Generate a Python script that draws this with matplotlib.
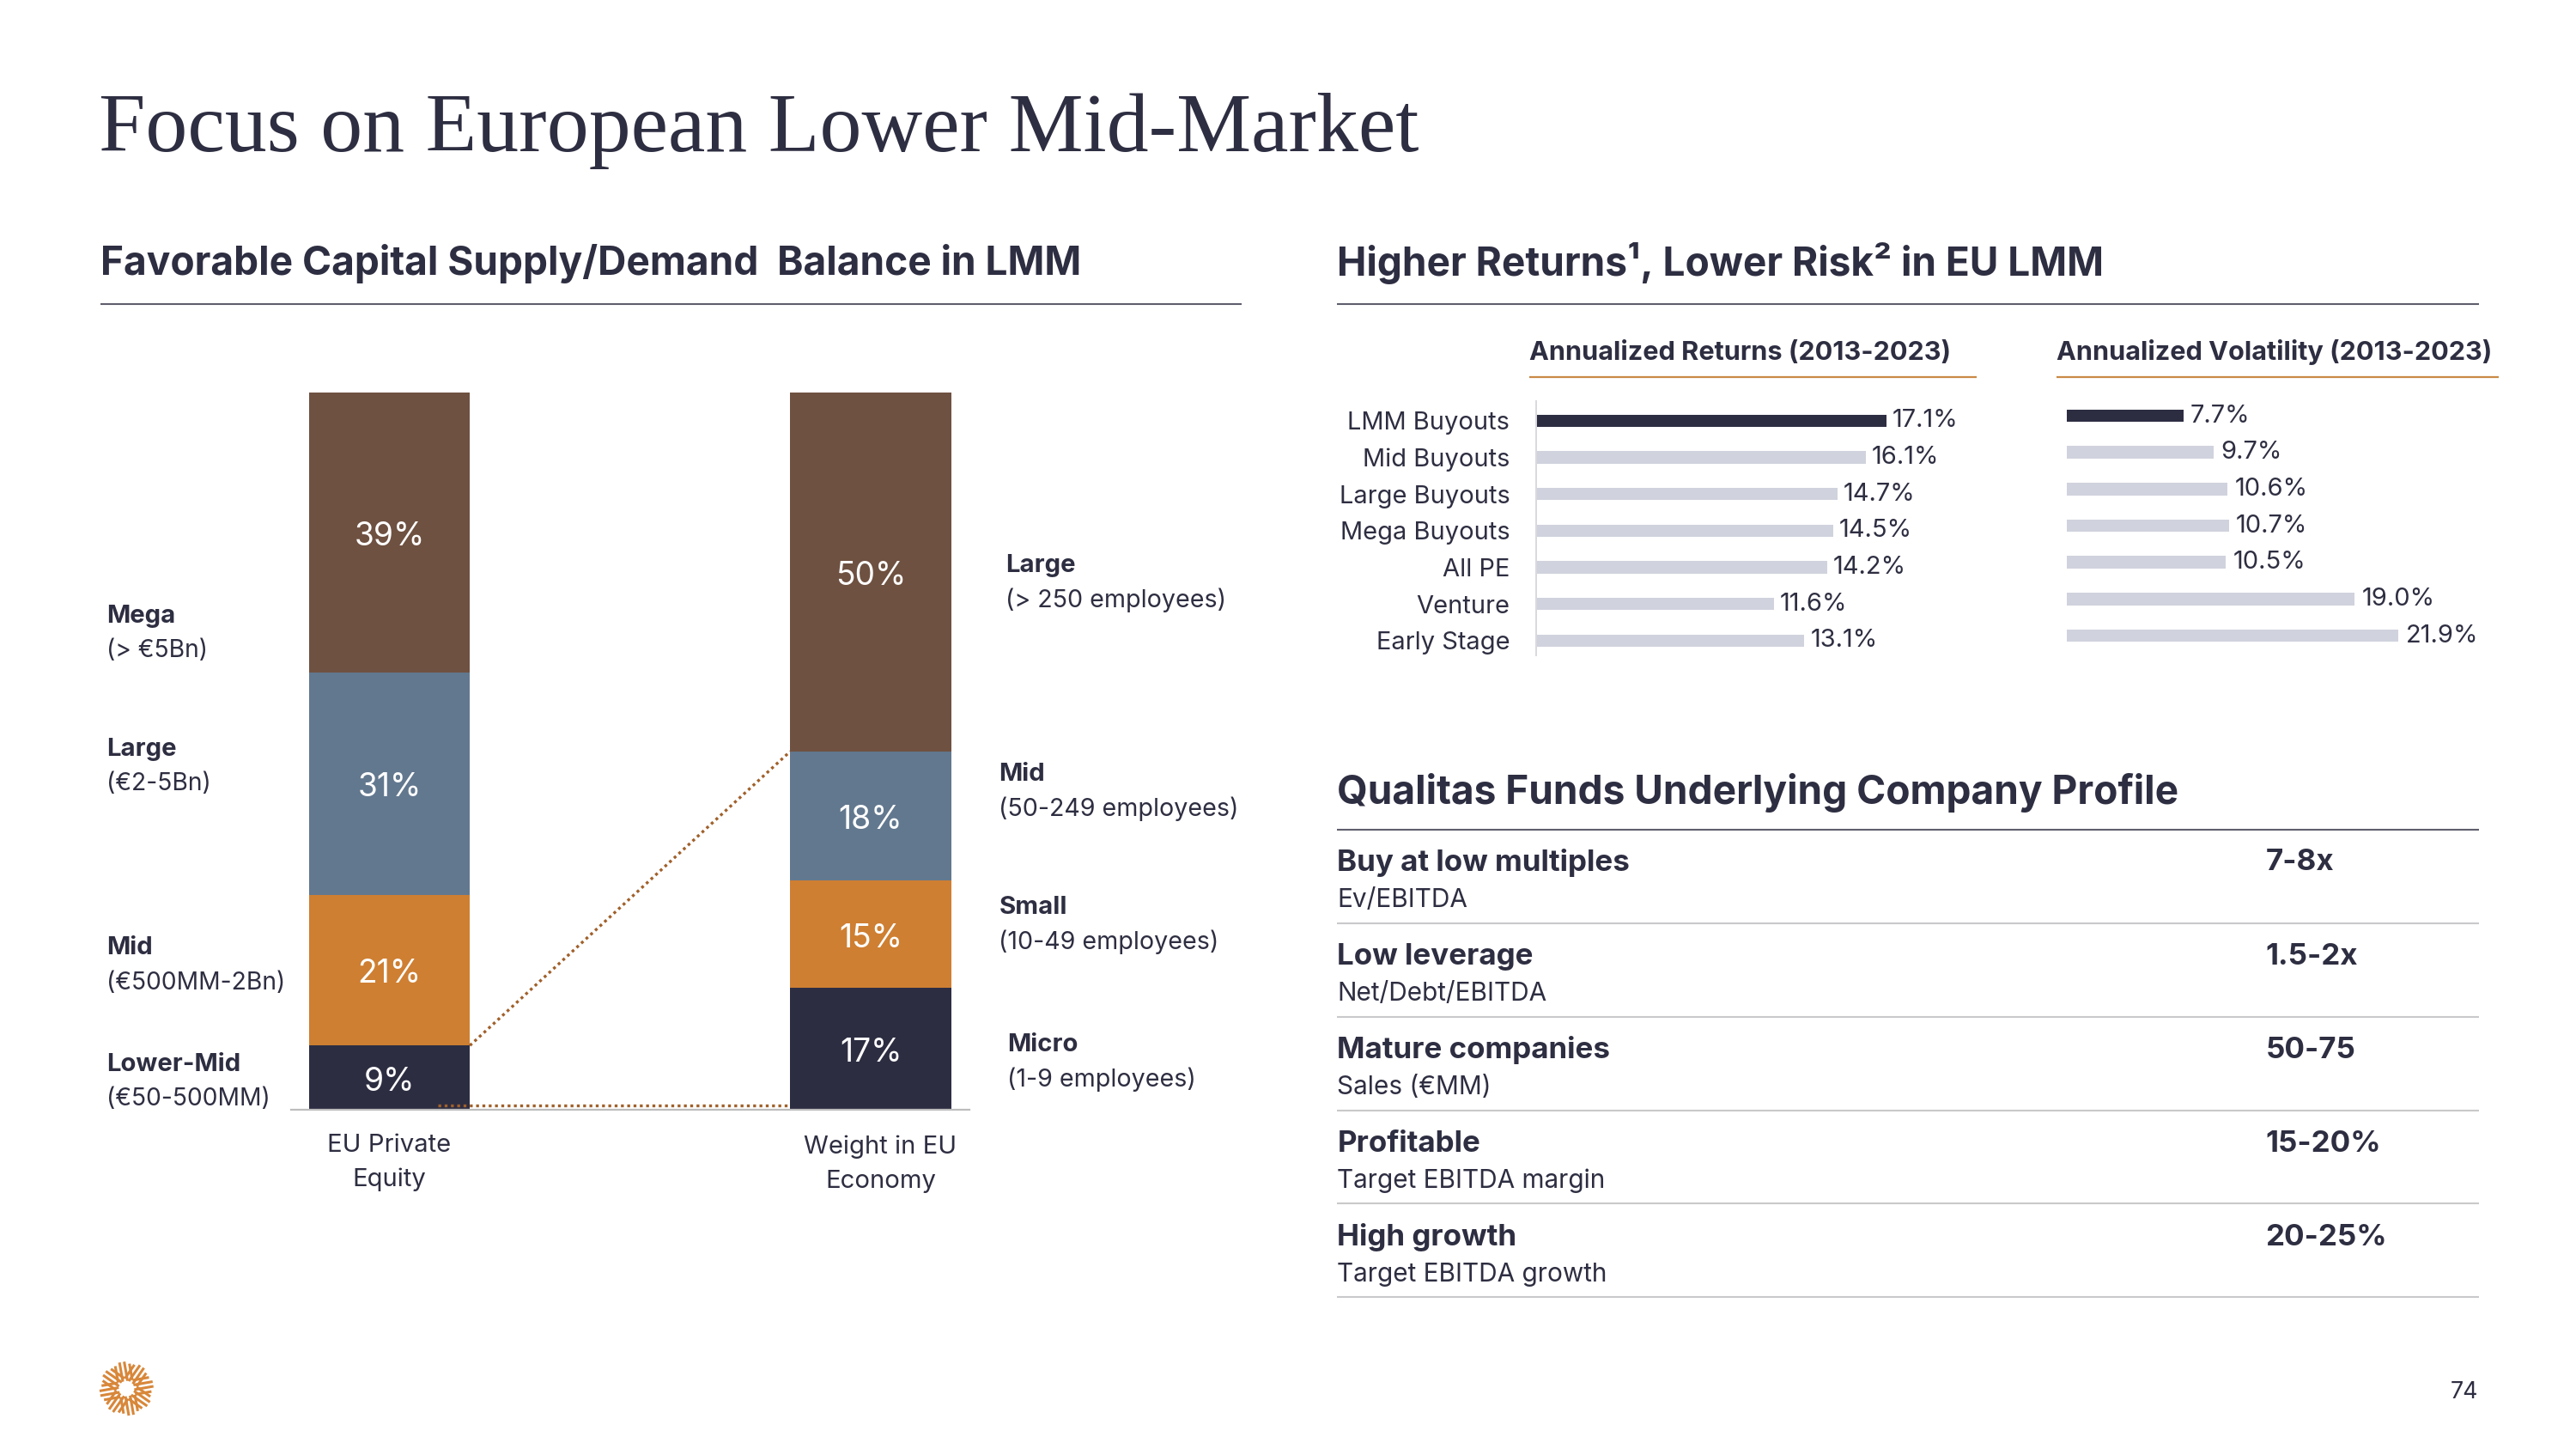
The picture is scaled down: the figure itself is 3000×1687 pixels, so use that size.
import matplotlib
matplotlib.use("Agg")
import matplotlib.pyplot as plt
from matplotlib.lines import Line2D
import numpy as np

# ---------------- data ----------------
pe_segments = ["Lower-Mid", "Mid", "Large", "Mega"]
pe_ranges = ["(€50-500MM)", "(€500MM-2Bn)", "(€2-5Bn)", "(> €5Bn)"]
pe_share = [9, 21, 31, 39]
econ_segments = ["Micro", "Small", "Mid", "Large"]
econ_ranges = ["(1-9 employees)", "(10-49 employees)", "(50-249 employees)", "(> 250 employees)"]
econ_share = [17, 15, 18, 50]
stack_names = ["EU Private\nEquity", "Weight in EU\nEconomy"]

strategies = ["LMM Buyouts", "Mid Buyouts", "Large Buyouts", "Mega Buyouts",
              "All PE", "Venture", "Early Stage"]
ann_returns = [17.1, 16.1, 14.7, 14.5, 14.2, 11.6, 13.1]
ann_volatility = [7.7, 9.7, 10.6, 10.7, 10.5, 19.0, 21.9]

profile_items = ["Buy at low multiples", "Low leverage", "Mature companies",
                 "Profitable", "High growth"]
profile_metrics = ["Ev/EBITDA", "Net/Debt/EBITDA", "Sales (€MM)",
                   "Target EBITDA margin", "Target EBITDA growth"]
profile_values = ["7-8x", "1.5-2x", "50-75", "15-20%", "20-25%"]

title = "Focus on European Lower Mid-Market"
header_left = "Favorable Capital Supply/Demand  Balance in LMM"
header_right = "Higher Returns¹, Lower Risk² in EU LMM"
header_profile = "Qualitas Funds Underlying Company Profile"
sub_returns = "Annualized Returns (2013-2023)"
sub_vol = "Annualized Volatility (2013-2023)"
page_no = "74"

# ---------------- style ----------------
NAVY = "#2D2D42"
BROWN = "#6F5141"
SLATE = "#62788F"
ORANGE = "#CE7F32"
LIGHT = "#D0D2DD"
GOLD = "#C98A45"
TXT = "#2E2E42"
RULE = "#5E5E6E"
SEP = "#C9C9CC"
DOT = "#A0602A"
seg_colors = [NAVY, ORANGE, SLATE, BROWN]

SANS = ["Inter", "DejaVu Sans"]
SERIF = ["Liberation Serif", "DejaVu Serif"]
plt.rcParams["font.family"] = SANS
plt.rcParams["text.color"] = TXT

W = 1568.0                     # design grid width
H = 1687.0 * W / 3000.0        # design grid height
PX = 3000.0 / W                # output pixels per design unit
DY = 2.0                       # vertical nudge for centred text
def fx(x): return x / W
def fy(y): return 1.0 - y / H
def fyc(y): return fy(y + DY)

fig = plt.figure(figsize=(30, 16.87), dpi=100)
fig.patch.set_facecolor("white")
renderer = fig.canvas.get_renderer()

def fit(s, width_units, weight="normal", family=None, base=20.0):
    t = fig.text(0, 0, s, size=base, weight=weight, family=family or SANS)
    w = t.get_window_extent(renderer=renderer).width
    t.remove()
    return base * width_units * PX / w

s_title = fit(title, 803, family=SERIF)
s_head = np.mean([fit(header_left, 603, "bold"), fit(header_profile, 516, "bold"),
                  fit(header_right, 463, "bold")])
s_sub = np.mean([fit(sub_returns, 257, "bold"), fit(sub_vol, 266, "bold")])
s_cat = fit("LMM Buyouts", 99)
s_left = fit("(€500MM-2Bn)", 109)
s_left_b = fit("Lower-Mid", 82, "bold")
s_right = fit("(50-249 employees)", 146)
s_pct = fit("39%", 43)
s_x = fit("Weight in EU", 93)
s_tab_b = fit("Buy at low multiples", 179, "bold")
s_tab = fit("Target EBITDA growth", 165)
s_page = fit(page_no, 17)

def hline(x0, x1, y, color, lw):
    fig.add_artist(Line2D([fx(x0), fx(x1)], [fy(y), fy(y)], transform=fig.transFigure,
                          color=color, lw=lw, solid_capstyle="butt"))

# ---------------- titles ----------------
fig.text(fx(60), fy(92), title, family=SERIF, size=s_title, color=TXT, va="baseline")
fig.text(fx(61), fy(167), header_left, weight="bold", size=s_head, va="baseline")
fig.text(fx(814), fy(168), header_right, weight="bold", size=s_head, va="baseline")
hline(61, 756, 185, RULE, 1.5)
hline(814, 1509, 185, RULE, 1.5)

# ---------------- left stacked bars ----------------
C1, C2 = 237.0, 530.0
UNIT = C2 - C1
BW = 98.0 / UNIT
AX_L, AX_R, AX_T, AX_B = 177.0, 590.0, 239.0, 675.5
ax = fig.add_axes([fx(AX_L), fy(AX_B), fx(AX_R) - fx(AX_L), fy(AX_T) - fy(AX_B)])
ax.set_xlim(-(C1 - AX_L) / UNIT, 1 + (AX_R - C2) / UNIT)
ax.set_ylim(0, 100)
pct_nudge = -2.5 * PX * 72 / 100   # points
for xi, shares in zip([0, 1], [pe_share, econ_share]):
    bottoms = np.concatenate([[0], np.cumsum(shares)[:-1]])
    ax.bar([xi] * len(shares), shares, bottom=bottoms, width=BW, color=seg_colors,
           linewidth=0, zorder=2)
    for b, v in zip(bottoms, shares):
        ax.annotate(f"{v}%", (xi, b + v / 2), xytext=(0, pct_nudge),
                    textcoords="offset points", ha="center", va="center",
                    color="white", size=s_pct, zorder=4)
# dotted connectors
ax.plot([BW / 2, 1 - BW / 2], [pe_share[0], sum(econ_share[:3])], ls=(0, (1, 1.2)),
        color=DOT, lw=2.4, zorder=3)
ax.plot([0.1, 1 - BW / 2], [0.7, 0.7], ls=(0, (1, 1.2)), color=DOT, lw=2.4, zorder=3)
for sp in ["top", "left", "right"]:
    ax.spines[sp].set_visible(False)
ax.spines["bottom"].set_color("#BDBDBD")
ax.spines["bottom"].set_linewidth(1.6)
ax.set_xticks([])
ax.set_yticks([])
ax.patch.set_alpha(0)

# category labels
for cx, name, yy in zip([237, 536], stack_names, [695, 696]):
    for k, line in enumerate(name.split("\n")):
        fig.text(fx(cx), fyc(yy + 21 * k), line, ha="center", va="center", size=s_x)

pe_label_y = [646, 575, 454, 373]
for seg, rng, yy in zip(pe_segments, pe_ranges, pe_label_y):
    fig.text(fx(65), fyc(yy), seg, weight="bold", size=s_left_b, va="center")
    fig.text(fx(65), fyc(yy + 21), rng, size=s_left, va="center")

econ_label_x = [613, 608, 608, 612]
econ_label_y = [634, 550, 469, 342]
for seg, rng, xx, yy in zip(econ_segments, econ_ranges, econ_label_x, econ_label_y):
    fig.text(fx(xx), fyc(yy), seg, weight="bold", size=s_left_b, va="center")
    fig.text(fx(xx), fyc(yy + 21), rng, size=s_right, va="center")

# ---------------- returns / volatility bars ----------------
fig.text(fx(931), fy(219), sub_returns, weight="bold", size=s_sub, va="baseline")
fig.text(fx(1252), fy(219), sub_vol, weight="bold", size=s_sub, va="baseline")
hline(931, 1203, 229.5, GOLD, 1.6)
hline(1252, 1521, 229.5, GOLD, 1.6)

ROW = 22.3
ypos = np.arange(len(strategies))
bar_cols = [NAVY] + [LIGHT] * (len(strategies) - 1)

def hbar_axes(x0, per_pct, x1, row0, top, bottom):
    a = fig.add_axes([fx(x0), fy(bottom), fx(x1) - fx(x0), fy(top) - fy(bottom)])
    a.set_xlim(0, (x1 - x0) / per_pct)
    a.set_ylim((bottom - row0) / ROW, (top - row0) / ROW)
    a.patch.set_alpha(0)
    for sp in ["top", "right", "bottom", "left"]:
        a.spines[sp].set_visible(False)
    a.set_xticks([])
    return a

axr = hbar_axes(935, 12.47, 1208, 256, 244, 399)
axr.barh(ypos, ann_returns, height=0.34, color=bar_cols, linewidth=0)
axr.set_yticks(ypos, strategies)
axr.tick_params(axis="y", length=0, pad=22, labelsize=s_cat, labelcolor=TXT)
axr.spines["left"].set_visible(True)
axr.spines["left"].set_color("#D9D9DE")
axr.spines["left"].set_linewidth(1.4)
for yv, v in zip(ypos, ann_returns):
    axr.annotate(f"{v:.1f}%", (v, yv), xytext=(5, 0), textcoords="offset points",
                 va="center", ha="left", size=s_cat, color=TXT)

axv = hbar_axes(1258, 9.22, 1540, 253, 241, 396)
axv.barh(ypos, ann_volatility, height=0.34, color=bar_cols, linewidth=0)
axv.set_yticks([])
for yv, v in zip(ypos, ann_volatility):
    axv.annotate(f"{v:.1f}%", (v, yv), xytext=(6, 0), textcoords="offset points",
                 va="center", ha="left", size=s_cat, color=TXT)

# ---------------- company profile table ----------------
fig.text(fx(814), fy(489), header_profile, weight="bold", size=s_head, va="baseline")
hline(814, 1509, 505, RULE, 1.5)
for i, (item, metric, val) in enumerate(zip(profile_items, profile_metrics, profile_values)):
    y0 = 523 + 57 * i
    fig.text(fx(814), fyc(y0), item, weight="bold", size=s_tab_b, va="center")
    fig.text(fx(814), fyc(y0 + 22.5), metric, size=s_tab, va="center")
    fig.text(fx(1379), fyc(y0), val, weight="bold", size=s_tab_b, va="center")
    hline(814, 1509, 562 + 56.8 * i, SEP, 1.5)

# ---------------- page number & logo ----------------
fig.text(fx(1508.5), fyc(845), page_no, ha="right", va="center", size=s_page)

lax = fig.add_axes([fx(57), fy(865), fx(40), 40 / H])
lax.set_xlim(-1.1, 1.1)
lax.set_ylim(-1.1, 1.1)
lax.set_aspect("equal")
lax.axis("off")
for ang in np.deg2rad([100, 10, 280, 190, 55, 145, 235, 325]):
    d = np.array([np.cos(ang), np.sin(ang)])
    n = np.array([-d[1], d[0]])
    for off in [-0.24, -0.08, 0.08, 0.24]:
        p0 = d * 0.25 + n * off
        p1 = d * (0.95 - abs(off) * 0.6) + n * off
        lax.plot([p0[0], p1[0]], [p0[1], p1[1]], color="#D8873A", lw=2.2,
                 solid_capstyle="butt")

fig.savefig("out.png", dpi=100, facecolor="white")
